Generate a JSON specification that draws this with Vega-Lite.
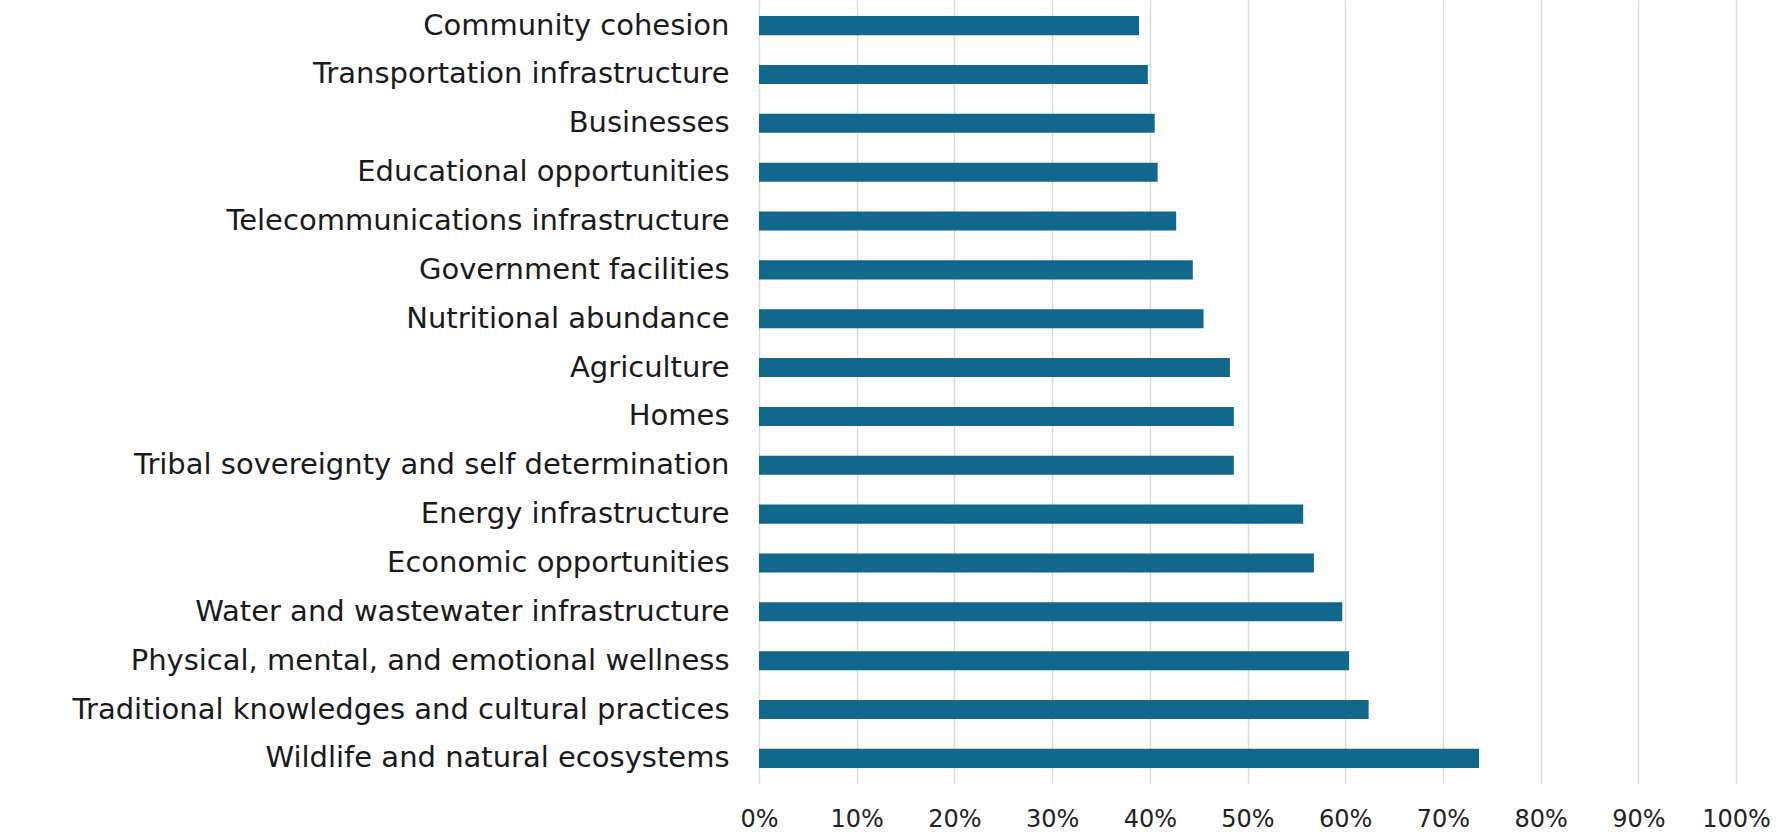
{
  "$schema": "https://vega.github.io/schema/vega-lite/v6.json",
  "width": 977,
  "height": 784,
  "autosize": "none",
  "padding": {"left": 759, "top": 0, "right": 53, "bottom": 56},
  "background": "white",
  "data": {
    "values": [
      {"category": "Community cohesion", "value": 0.389},
      {"category": "Transportation infrastructure", "value": 0.398},
      {"category": "Businesses", "value": 0.405},
      {"category": "Educational opportunities", "value": 0.408},
      {"category": "Telecommunications infrastructure", "value": 0.427},
      {"category": "Government facilities", "value": 0.444},
      {"category": "Nutritional abundance", "value": 0.455},
      {"category": "Agriculture", "value": 0.482},
      {"category": "Homes", "value": 0.486},
      {"category": "Tribal sovereignty and self determination", "value": 0.486},
      {"category": "Energy infrastructure", "value": 0.557},
      {"category": "Economic opportunities", "value": 0.568},
      {"category": "Water and wastewater infrastructure", "value": 0.597},
      {"category": "Physical, mental, and emotional wellness", "value": 0.604},
      {"category": "Traditional knowledges and cultural practices", "value": 0.624},
      {"category": "Wildlife and natural ecosystems", "value": 0.737}
    ]
  },
  "mark": {"type": "bar", "color": "#11678c"},
  "encoding": {
    "y": {
      "field": "category",
      "type": "nominal",
      "sort": null,
      "scale": {"paddingInner": 0.61, "paddingOuter": 0.33},
      "axis": {
        "title": null,
        "ticks": false,
        "domain": false,
        "grid": false,
        "labelPadding": 30,
        "labelFont": "DejaVu Sans",
        "labelFontSize": 29,
        "labelColor": "#1a1a1a",
        "labelLimit": 800
      }
    },
    "x": {
      "field": "value",
      "type": "quantitative",
      "scale": {"domain": [0, 1], "nice": false},
      "axis": {
        "title": null,
        "values": [0, 0.1, 0.2, 0.3, 0.4, 0.5, 0.6, 0.7, 0.8, 0.9, 1],
        "format": ".0%",
        "ticks": false,
        "domain": false,
        "grid": true,
        "gridColor": "#d9d9d9",
        "gridWidth": 1.5,
        "labelPadding": 23,
        "labelFlush": false,
        "labelOverlap": false,
        "labelFont": "DejaVu Sans",
        "labelFontSize": 24,
        "labelColor": "#222222"
      }
    }
  },
  "config": {"view": {"stroke": null}}
}
